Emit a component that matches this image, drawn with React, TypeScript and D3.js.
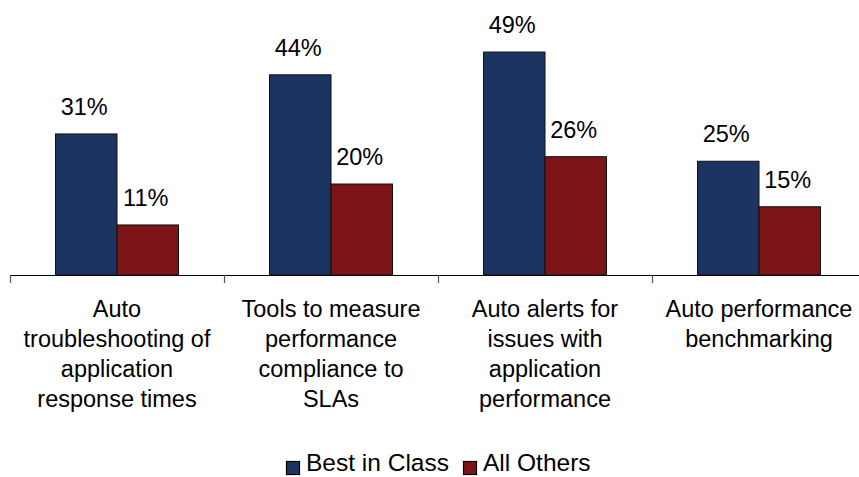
import * as d3 from "d3";
import React from "react";

const categories = [
  ["Auto", "troubleshooting of", "application", "response times"],
  ["Tools to measure", "performance", "compliance to", "SLAs"],
  ["Auto alerts for", "issues with", "application", "performance"],
  ["Auto performance", "benchmarking"],
];
const seriesNames = ["Best in Class", "All Others"];
const bestInClass = [31, 44, 49, 25];
const allOthers = [11, 20, 26, 15];
const colors = ["#1b3461", "#7b1517"];

const W = 859;
const H = 477;
const FONT = "'Liberation Sans', Arial, sans-serif";

export default function App() {
  const ref = React.useRef<SVGSVGElement>(null);

  React.useEffect(() => {
    if (!ref.current) return;
    const svg = d3.select(ref.current);
    svg.selectAll("*").remove();

    const baseY = 275;
    const keys = categories.map((_, i) => String(i));

    const x0 = d3.scaleBand().domain(keys).range([10, 866]).padding(0);
    const x1 = d3
      .scaleBand()
      .domain(seriesNames)
      .range([0, x0.bandwidth()])
      .paddingInner(0)
      .paddingOuter(0.74);
    const y = d3.scaleLinear().domain([0, 60]).range([baseY, 2]);

    const values = [bestInClass, allOthers];

    // bars + labels
    seriesNames.forEach((s, si) => {
      const g = svg.append("g");
      values[si].forEach((v, ci) => {
        const bx = (x0(keys[ci]) || 0) + (x1(s) || 0);
        g.append("rect")
          .attr("x", bx)
          .attr("y", y(v))
          .attr("width", x1.bandwidth())
          .attr("height", baseY - y(v))
          .attr("fill", colors[si])
          .attr("stroke", "#111")
          .attr("stroke-width", 1);
        g.append("text")
          .attr("x", bx + x1.bandwidth() / 2 - 2)
          .attr("y", y(v) - 19)
          .attr("text-anchor", "middle")
          .attr("font-family", FONT)
          .attr("font-size", 23.5)
          .attr("fill", "#000")
          .text(`${v}%`);
      });
    });

    // x axis
    svg
      .append("line")
      .attr("x1", 10)
      .attr("x2", W)
      .attr("y1", baseY + 0.5)
      .attr("y2", baseY + 0.5)
      .attr("stroke", "#000")
      .attr("stroke-width", 1.2);

    const ticks = [...keys.map((k) => x0(k) || 0), 866];
    svg
      .selectAll("line.tick")
      .data(ticks)
      .enter()
      .append("line")
      .attr("class", "tick")
      .attr("x1", (d) => Math.round(d) + 0.5)
      .attr("x2", (d) => Math.round(d) + 0.5)
      .attr("y1", baseY)
      .attr("y2", baseY + 8)
      .attr("stroke", "#555")
      .attr("stroke-width", 1.2);

    // category labels
    categories.forEach((lines, ci) => {
      const cx = (x0(keys[ci]) || 0) + x0.bandwidth() / 2;
      const t = svg
        .append("text")
        .attr("text-anchor", "middle")
        .attr("font-family", FONT)
        .attr("font-size", 23.5)
        .attr("fill", "#000");
      lines.forEach((ln, li) => {
        t.append("tspan")
          .attr("x", cx)
          .attr("y", 317 + li * 30)
          .text(ln);
      });
    });

    // legend
    const legendX = [286, 463];
    seriesNames.forEach((s, si) => {
      svg
        .append("rect")
        .attr("x", legendX[si] + 0.5)
        .attr("y", 461.5)
        .attr("width", 13)
        .attr("height", 13)
        .attr("fill", colors[si])
        .attr("stroke", "#000")
        .attr("stroke-width", 1.2);
      svg
        .append("text")
        .attr("x", legendX[si] + 20)
        .attr("y", 471)
        .attr("font-family", FONT)
        .attr("font-size", 24.5)
        .attr("fill", "#000")
        .text(s);
    });
  }, []);

  return (
    <svg
      ref={ref}
      width={W}
      height={H}
      style={{ position: "absolute", left: 0, top: 0, background: "#fff" }}
    />
  );
}
